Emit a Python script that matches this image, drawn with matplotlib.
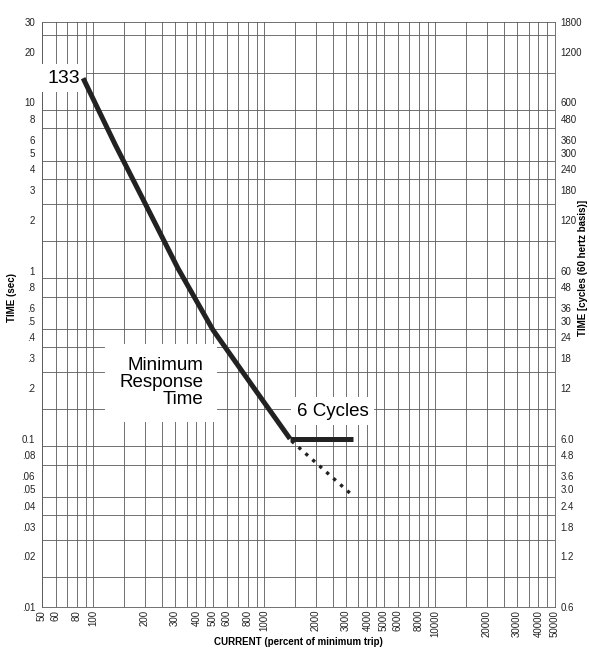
import matplotlib
matplotlib.use("Agg")
import matplotlib.pyplot as plt
from matplotlib.ticker import FixedLocator, NullFormatter, LogLocator

plt.rcParams['font.family'] = ['Liberation Sans', 'DejaVu Sans']

# minimum response curve (current %, time sec)
curve_x = [87, 134, 192, 312, 500, 900, 1410]
curve_t = [13.9, 5.6, 2.73, 1.03, 0.443, 0.19, 0.1]

# 6 cycle flat part
flat_x = [1410, 3300]
flat_t = [0.1, 0.1]

# dotted continuation
dot_x = [1440, 3200]
dot_t = [0.097, 0.047]

x_ticks = [50, 60, 80, 100, 200, 300, 400, 500, 600, 800, 1000, 2000, 3000,
           4000, 5000, 6000, 8000, 10000, 20000, 30000, 40000, 50000]
y_ticks = [30, 20, 10, 8, 6, 5, 4, 3, 2, 1, .8, .6, .5, .4, .3, .2, 0.1,
           .08, .06, .05, .04, .03, .02, .01]
y_labels = ['30', '20', '10', '8', '6', '5', '4', '3', '2', '1', '.8', '.6', '.5',
            '.4', '.3', '.2', '0.1', '.08', '.06', '.05', '.04', '.03', '.02', '.01']
cyc_ticks = [1800, 1200, 600, 480, 360, 300, 240, 180, 120, 60, 48, 36, 30, 24,
             18, 12, 6.0, 4.8, 3.6, 3.0, 2.4, 1.8, 1.2, 0.6]
cyc_labels = ['1800', '1200', '600', '480', '360', '300', '240', '180', '120', '60',
              '48', '36', '30', '24', '18', '12', '6.0', '4.8', '3.6', '3.0', '2.4',
              '1.8', '1.2', '0.6']

grid_subs = (1.0, 1.5, 2.0, 2.5, 3.0, 3.5, 4.0, 4.5, 5.0, 6.0, 7.0, 8.0, 9.0)
gcol = '#5a5a5a'

fig = plt.figure(figsize=(5.89, 6.51), dpi=100)
ax = fig.add_axes([42 / 589, 1 - 607 / 651, 513 / 589, 585 / 651])
ax.set_xscale('log')
ax.set_yscale('log')
ax.set_xlim(50, 50000)
ax.set_ylim(0.01, 30)

ax.xaxis.set_major_locator(FixedLocator(x_ticks))
ax.set_xticklabels([str(v) for v in x_ticks], rotation=90)
ax.yaxis.set_major_locator(FixedLocator(y_ticks))
ax.set_yticklabels(y_labels)
ax.xaxis.set_minor_locator(LogLocator(base=10, subs=grid_subs, numticks=50))
ax.yaxis.set_minor_locator(LogLocator(base=10, subs=grid_subs, numticks=50))
ax.xaxis.set_minor_formatter(NullFormatter())
ax.yaxis.set_minor_formatter(NullFormatter())
ax.tick_params(which='both', length=0, labelsize=7, colors='#222222')
ax.tick_params(axis='y', pad=5)
ax.tick_params(axis='x', pad=2)
ax.grid(which='minor', color=gcol, lw=0.6)
ax.grid(which='major', axis='x', color=gcol, lw=0.6)
for s in ax.spines.values():
    s.set_color(gcol)
    s.set_linewidth(0.6)

ax.plot(curve_x, curve_t, color='#222222', lw=3.6, solid_capstyle='butt',
        solid_joinstyle='round', zorder=5)
ax.plot(flat_x, flat_t, color='#222222', lw=3.6, solid_capstyle='butt', zorder=5)
ax.plot(dot_x, dot_t, color='#222222', lw=2.4, dashes=(1, 1.8),
        dash_capstyle='butt', zorder=5)

box = dict(facecolor='white', edgecolor='none', pad=4)
ax.text(0.074, 0.904, '133', transform=ax.transAxes, ha='right', va='center',
        fontsize=14, bbox=box, zorder=4)
ax.text(0.314, 0.383, 'Minimum\nResponse\nTime', transform=ax.transAxes,
        ha='right', va='center', fontsize=13.5, linespacing=1.0,
        bbox=dict(facecolor='white', edgecolor='none', pad=10), zorder=4)
ax.text(0.497, 0.335, '6 Cycles', transform=ax.transAxes, ha='left', va='center',
        fontsize=13.5, bbox=box, zorder=4)

fig.text(298 / 589, 1 - 642 / 651, 'CURRENT (percent of minimum trip)',
         fontsize=7, fontweight='bold', ha='center', va='center')
fig.text(12 / 589, 1 - 297 / 651, 'TIME (sec)', fontsize=7, fontweight='bold',
         rotation=90, ha='center', va='center')

ax2 = ax.twinx()
ax2.set_yscale('log')
ax2.set_ylim(0.6, 1800)
ax2.yaxis.set_major_locator(FixedLocator(cyc_ticks))
ax2.set_yticklabels(cyc_labels)
ax2.yaxis.set_minor_formatter(NullFormatter())
ax2.yaxis.set_minor_locator(FixedLocator([]))
ax2.tick_params(which='both', length=0, labelsize=7, colors='#222222', pad=4)
for s in ax2.spines.values():
    s.set_visible(False)
fig.text(583 / 589, 1 - 268 / 651, 'TIME [cycles (60 hertz basis)]', fontsize=7,
         fontweight='bold', rotation=90, ha='center', va='center')

fig.savefig('out.png', dpi=100)
